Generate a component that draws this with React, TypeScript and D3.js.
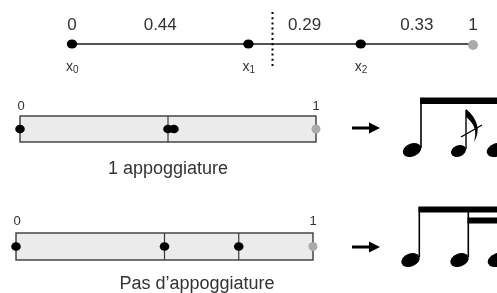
import * as d3 from "d3";

// top timeline: onset positions and interval labels
const onsets = [0, 0.44, 0.72];
const endPoint = 1;
const onsetNames = ["0", "1", "2"];
const intervalLabels = ["0.44", "0.29", "0.33"];
const splitAt = 0.5;

// quantized grids
const gridA = { dividers: [0.5], points: [0, 0.5, 0.52], title: "1 appoggiature" };
const gridB = { dividers: [0.5, 0.75], points: [0, 0.5, 0.75], title: "Pas d’appoggiature" };

const font = "'Liberation Sans', Arial, Helvetica, sans-serif";
const ink = "#1a1a1a";

function Grid({ g, x0, x1, top, bottom, labelY, titleX, titleY }) {
  const x = d3.scaleLinear([0, 1], [x0, x1]);
  const cy = (top + bottom) / 2;
  return (
    <g>
      <rect x={x(0)} y={top} width={x(1) - x(0)} height={bottom - top} fill="#ebebeb" stroke="#3a3a3a" strokeWidth={1.4} />
      {g.dividers.map((d, i) => (
        <line key={i} x1={x(d)} x2={x(d)} y1={top} y2={bottom} stroke="#3a3a3a" strokeWidth={1.2} />
      ))}
      {g.points.map((d, i) => (
        <ellipse key={i} cx={x(d)} cy={cy} rx={4.8} ry={4.3} fill="#000" />
      ))}
      <circle cx={x(endPoint)} cy={cy} r={4.5} fill="#aaa" />
      <text x={x(0) + 1} y={labelY} fontSize={13} textAnchor="middle" fill="#333">0</text>
      <text x={x(1)} y={labelY} fontSize={13} textAnchor="middle" fill="#333">1</text>
      <text x={titleX} y={titleY} fontSize={18} textAnchor="middle" fill="#333">{g.title}</text>
    </g>
  );
}

function Arrow({ y }) {
  return (
    <g>
      <line x1={352} x2={372} y1={y} y2={y} stroke="#000" strokeWidth={3} />
      <polygon points={`369,${y - 5.5} 380,${y} 369,${y + 5.5}`} fill="#000" />
    </g>
  );
}

function Head({ cx, cy, rx, ry }) {
  return <ellipse cx={cx} cy={cy} rx={rx} ry={ry} fill="#000" transform={`rotate(-22 ${cx} ${cy})`} />;
}

export default function App() {
  const xt = d3.scaleLinear([0, 1], [72, 473]);
  const stops = [...onsets, endPoint];
  const lineY = 44;
  return (
    <div style={{ position: "fixed", left: 0, top: 0 }}>
      <svg width={497} height={293} style={{ display: "block", fontFamily: font }}>
        {/* top timeline */}
        <line x1={xt(0)} x2={xt(endPoint)} y1={lineY} y2={lineY} stroke={ink} strokeWidth={1.6} />
        <line x1={xt(splitAt)} x2={xt(splitAt)} y1={12} y2={69} stroke="#000" strokeWidth={2} strokeDasharray="2 3.2" />
        {onsets.map((d, i) => (
          <ellipse key={i} cx={xt(d)} cy={lineY} rx={5.2} ry={4.6} fill="#000" />
        ))}
        <circle cx={xt(endPoint)} cy={lineY + 1} r={5} fill="#aaa" />
        <text x={xt(0)} y={30} fontSize={17} textAnchor="middle" fill="#333">0</text>
        <text x={xt(endPoint)} y={30} fontSize={17} textAnchor="middle" fill="#333">1</text>
        {intervalLabels.map((t, i) => (
          <text key={i} x={xt((stops[i] + stops[i + 1]) / 2)} y={30} fontSize={17} textAnchor="middle" fill="#333">{t}</text>
        ))}
        {onsets.map((d, i) => (
          <text key={i} x={xt(d) - 6} y={71} fontSize={14} fill="#333">
            x<tspan fontSize={10} dy={2}>{onsetNames[i]}</tspan>
          </text>
        ))}

        <Grid g={gridA} x0={20} x1={316} top={116} bottom={142} labelY={110} titleX={168} titleY={174} />
        <Grid g={gridB} x0={16} x1={313} top={233} bottom={260} labelY={225} titleX={197} titleY={289} />

        <Arrow y={128} />
        <Arrow y={247} />

        {/* notes: eighth + grace + eighth */}
        <rect x={420} y={97.5} width={80} height={6.5} fill="#000" />
        <line x1={421} x2={421} y1={98} y2={148} stroke="#000" strokeWidth={1.6} />
        <Head cx={412} cy={150} rx={9.6} ry={6.6} />
        <line x1={466} x2={466} y1={110} y2={149} stroke="#000" strokeWidth={1.4} />
        <path d="M466,109 L466,117 C472,122 478,128 474,142 C481,131 478,119 466,109 Z" fill="#000" />
        <line x1={461} x2={482} y1={137} y2={125} stroke="#000" strokeWidth={1.4} />
        <Head cx={458.5} cy={151} rx={7.8} ry={5.6} />
        <Head cx={496} cy={150} rx={9.6} ry={6.6} />

        {/* notes: eighth + two sixteenths */}
        <rect x={418.5} y={206.5} width={80} height={6} fill="#000" />
        <rect x={467.5} y={217.5} width={32} height={6} fill="#000" />
        <line x1={419.3} x2={419.3} y1={207} y2={257} stroke="#000" strokeWidth={1.6} />
        <Head cx={410.5} cy={260} rx={9.6} ry={6.6} />
        <line x1={468.3} x2={468.3} y1={207} y2={257} stroke="#000" strokeWidth={1.6} />
        <Head cx={459.5} cy={260} rx={9.6} ry={6.6} />
        <Head cx={497} cy={260} rx={9.6} ry={6.6} />
      </svg>
    </div>
  );
}
